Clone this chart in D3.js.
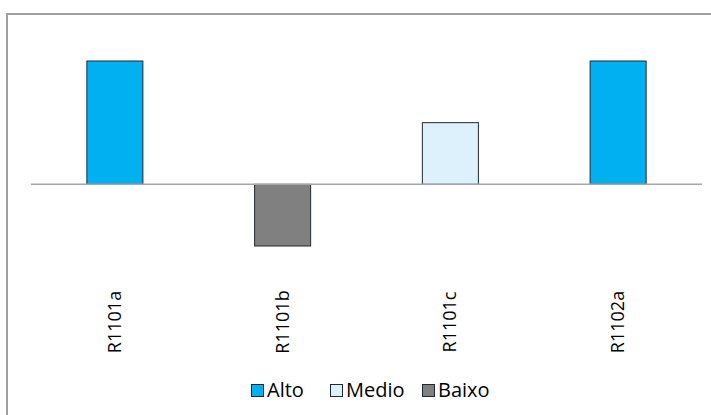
<!DOCTYPE html>
<html><head><meta charset="utf-8">
<script src="https://cdn.jsdelivr.net/npm/d3@7"></script>
<style>body{margin:0;background:#fff}svg{display:block}</style>
</head><body>
<script>
const categories = ["R1101a","R1101b","R1101c","R1102a"];
const values = [2, -1, 1, 2];
const levels = ["Alto","Baixo","Medio","Alto"];
const legendLabels = ["Alto","Medio","Baixo"];
const legendColors = ["#00B0F0","#DDF1FC","#808080"];

const W = 711, H = 415;
const svg = d3.select("body").append("svg").attr("width",W).attr("height",H);
svg.append("rect").attr("x",7).attr("y",14).attr("width",W).attr("height",H)
  .attr("fill","#fff").attr("stroke","#a0a0a0").attr("stroke-width",2);

const x = d3.scaleBand().domain(categories).range([31,702]).paddingInner(0.666).paddingOuter(0.333);
const y = d3.scaleLinear().domain([-1,2]).range([246,61]);
const color = d3.scaleOrdinal().domain(legendLabels).range(legendColors);

svg.selectAll("rect.bar").data(categories).join("rect").attr("class","bar")
  .attr("x",d=>x(d)).attr("width",x.bandwidth())
  .attr("y",(d,i)=>y(Math.max(0,values[i])))
  .attr("height",(d,i)=>Math.abs(y(values[i])-y(0)))
  .attr("fill",(d,i)=>color(levels[i]))
  .attr("stroke","#1e2a33").attr("stroke-width",1);

svg.append("line").attr("x1",31).attr("x2",702).attr("y1",y(0)).attr("y2",y(0))
  .attr("stroke","#a6a6a6").attr("stroke-width",1.5);

svg.selectAll("text.cat").data(categories).join("text").attr("class","cat")
  .attr("transform",d=>`translate(${x(d)+x.bandwidth()/2+6},322) rotate(-90)`)
  .attr("text-anchor","middle")
  .style("font-family","'Open Sans', sans-serif").style("font-size","18px").attr("fill","#000")
  .text(d=>d);

const legendX = [251, 330, 422];
const lg = svg.selectAll("g.leg").data(legendLabels).join("g").attr("class","leg")
  .attr("transform",(d,i)=>`translate(${legendX[i]},384)`);
lg.append("rect").attr("x",0.5).attr("y",0.5).attr("width",12).attr("height",12)
  .attr("fill",d=>color(d)).attr("stroke","#1e2a33").attr("stroke-width",1);
lg.append("text").attr("x",16).attr("y",12.5)
  .style("font-family","'Open Sans', sans-serif").style("font-size","20px").attr("fill","#000")
  .text(d=>d);
</script>
</body></html>
